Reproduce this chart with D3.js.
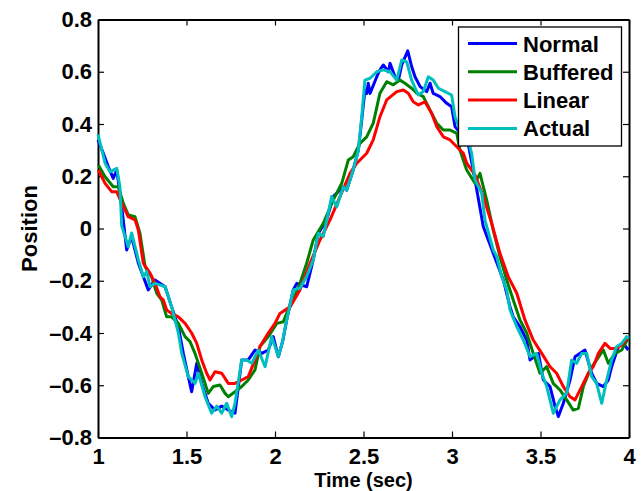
<!DOCTYPE html>
<html>
<head>
<meta charset="utf-8">
<script src="https://cdn.jsdelivr.net/npm/d3@7"></script>
<style>
  body { margin: 0; background: #fff; }
  svg text { font-family: "Liberation Sans", Arial, sans-serif; font-weight: bold; fill: #000; }
</style>
</head>
<body>
<svg id="chart" width="642" height="491"></svg>
<script>
// [time (sec), position]
const normal = [
  [1.000, 0.34], [1.030, 0.288], [1.058, 0.237], [1.086, 0.192], [1.106, 0.224], [1.134, 0.083],
  [1.162, -0.082], [1.190, -0.031], [1.228, -0.133], [1.284, -0.235], [1.322, -0.197], [1.379, -0.223],
  [1.416, -0.30], [1.454, -0.376], [1.482, -0.478], [1.510, -0.567], [1.529, -0.625], [1.558, -0.516],
  [1.586, -0.593], [1.623, -0.669], [1.661, -0.695], [1.699, -0.68], [1.736, -0.695], [1.774, -0.707],
  [1.812, -0.503], [1.849, -0.503], [1.887, -0.465], [1.925, -0.478], [1.962, -0.465], [1.990, -0.414],
  [2.019, -0.491], [2.045, -0.427], [2.066, -0.35], [2.103, -0.235], [2.123, -0.21], [2.179, -0.223],
  [2.216, -0.12], [2.245, -0.018], [2.292, 0.033], [2.329, 0.122], [2.386, 0.16], [2.405, 0.147],
  [2.442, 0.224], [2.471, 0.30], [2.490, 0.415], [2.508, 0.53], [2.518, 0.517], [2.527, 0.556],
  [2.537, 0.517], [2.575, 0.581], [2.593, 0.607], [2.612, 0.626], [2.640, 0.60], [2.650, 0.632],
  [2.678, 0.581], [2.697, 0.568], [2.716, 0.626], [2.750, 0.68], [2.772, 0.62], [2.791, 0.581],
  [2.820, 0.543], [2.857, 0.524], [2.876, 0.556], [2.894, 0.517], [2.932, 0.505], [2.970, 0.479],
  [2.998, 0.466], [3.017, 0.39], [3.090, 0.33], [3.130, 0.186], [3.177, 0.007],
  [3.233, -0.095], [3.290, -0.197], [3.328, -0.30], [3.346, -0.338], [3.384, -0.376], [3.422, -0.427],
  [3.441, -0.503], [3.488, -0.478], [3.516, -0.58], [3.554, -0.605], [3.582, -0.68], [3.601, -0.72],
  [3.629, -0.669], [3.667, -0.58], [3.695, -0.491], [3.751, -0.465], [3.789, -0.554], [3.817, -0.593],
  [3.855, -0.605], [3.883, -0.58], [3.902, -0.529], [3.940, -0.452], [3.968, -0.44], [3.996, -0.465]
];

const buffered = [
  [1.002, 0.243], [1.040, 0.198], [1.086, 0.16], [1.115, 0.16], [1.143, 0.096], [1.171, 0.052],
  [1.209, 0.045], [1.237, -0.018], [1.266, -0.146], [1.303, -0.185], [1.332, -0.248], [1.360, -0.274],
  [1.388, -0.338], [1.416, -0.338], [1.454, -0.363], [1.492, -0.414], [1.520, -0.433], [1.548, -0.478],
  [1.586, -0.554], [1.623, -0.631], [1.651, -0.605], [1.689, -0.599], [1.718, -0.631], [1.736, -0.644],
  [1.774, -0.625], [1.812, -0.605], [1.849, -0.58], [1.887, -0.541], [1.915, -0.452], [1.962, -0.414],
  [2.010, -0.363], [2.047, -0.357], [2.066, -0.325], [2.103, -0.274], [2.141, -0.21], [2.179, -0.133],
  [2.216, -0.044], [2.273, 0.020], [2.329, 0.109], [2.377, 0.173], [2.414, 0.262], [2.442, 0.275],
  [2.480, 0.326], [2.518, 0.351], [2.555, 0.403], [2.593, 0.518], [2.631, 0.562], [2.668, 0.55],
  [2.706, 0.568], [2.734, 0.556], [2.772, 0.537], [2.801, 0.518], [2.838, 0.505], [2.876, 0.453],
  [2.914, 0.403], [2.951, 0.377], [2.989, 0.377], [3.027, 0.364], [3.045, 0.30], [3.083, 0.224],
  [3.130, 0.173], [3.158, 0.211], [3.196, 0.109], [3.233, -0.006], [3.271, -0.108], [3.309, -0.197],
  [3.346, -0.274], [3.384, -0.35], [3.422, -0.40], [3.459, -0.478], [3.497, -0.554], [3.535, -0.529],
  [3.572, -0.593], [3.610, -0.618], [3.648, -0.656], [3.685, -0.695], [3.714, -0.688], [3.742, -0.605],
  [3.780, -0.541], [3.817, -0.503], [3.855, -0.465], [3.883, -0.516], [3.921, -0.478], [3.959, -0.465],
  [3.996, -0.42]
];

const linear = [
  [1.002, 0.224], [1.040, 0.173], [1.077, 0.141], [1.106, 0.141], [1.134, 0.096], [1.171, 0.045],
  [1.209, 0.033], [1.228, -0.006], [1.256, -0.133], [1.294, -0.171], [1.322, -0.21], [1.350, -0.261],
  [1.369, -0.274], [1.388, -0.312], [1.416, -0.325], [1.454, -0.338], [1.492, -0.363], [1.529, -0.40],
  [1.558, -0.44], [1.586, -0.503], [1.614, -0.554], [1.633, -0.58], [1.661, -0.548], [1.699, -0.554],
  [1.736, -0.593], [1.774, -0.593], [1.812, -0.58], [1.849, -0.567], [1.887, -0.503], [1.915, -0.452],
  [1.962, -0.40], [2.000, -0.363], [2.028, -0.325], [2.085, -0.30], [2.141, -0.235], [2.198, -0.133],
  [2.254, -0.044], [2.311, 0.033], [2.367, 0.122], [2.424, 0.211], [2.462, 0.25], [2.518, 0.288],
  [2.555, 0.339], [2.593, 0.428], [2.631, 0.492], [2.688, 0.524], [2.725, 0.53], [2.753, 0.518],
  [2.781, 0.485], [2.810, 0.473], [2.847, 0.485], [2.885, 0.441], [2.914, 0.39], [2.951, 0.351],
  [2.989, 0.339], [3.027, 0.313], [3.064, 0.288], [3.083, 0.25], [3.130, 0.205], [3.177, 0.122],
  [3.224, 0.02], [3.271, -0.095], [3.318, -0.185], [3.366, -0.248], [3.412, -0.35], [3.459, -0.427],
  [3.507, -0.478], [3.554, -0.529], [3.591, -0.554], [3.629, -0.605], [3.667, -0.644], [3.695, -0.656],
  [3.733, -0.605], [3.770, -0.554], [3.798, -0.529], [3.827, -0.478], [3.864, -0.44], [3.893, -0.459],
  [3.930, -0.459], [3.968, -0.44], [3.996, -0.414]
];

const actual = [
  [1.000, 0.36], [1.040, 0.25], [1.068, 0.217], [1.106, 0.23], [1.124, 0.16], [1.134, 0.01],
  [1.171, -0.07], [1.190, -0.017], [1.228, -0.12], [1.256, -0.185], [1.275, -0.165], [1.294, -0.223],
  [1.322, -0.21], [1.379, -0.223], [1.416, -0.30], [1.435, -0.35], [1.454, -0.40], [1.473, -0.478],
  [1.510, -0.567], [1.548, -0.593], [1.567, -0.554], [1.605, -0.644], [1.642, -0.707], [1.671, -0.68],
  [1.699, -0.707], [1.727, -0.669], [1.755, -0.72], [1.774, -0.669], [1.812, -0.503], [1.840, -0.503],
  [1.868, -0.516], [1.906, -0.465], [1.944, -0.529], [1.981, -0.414], [2.019, -0.49], [2.040, -0.44],
  [2.066, -0.35], [2.103, -0.235], [2.141, -0.229], [2.179, -0.184], [2.216, -0.12], [2.245, -0.018],
  [2.273, -0.031], [2.320, 0.122], [2.349, 0.083], [2.386, 0.16], [2.405, 0.147], [2.442, 0.224],
  [2.471, 0.30], [2.490, 0.428], [2.508, 0.568], [2.537, 0.575], [2.575, 0.60], [2.612, 0.607],
  [2.650, 0.60], [2.688, 0.568], [2.716, 0.645], [2.744, 0.638], [2.772, 0.568], [2.810, 0.511],
  [2.838, 0.524], [2.866, 0.581], [2.894, 0.568], [2.923, 0.537], [2.960, 0.524], [2.998, 0.511],
  [3.017, 0.428], [3.060, 0.35], [3.092, 0.339], [3.111, 0.288], [3.130, 0.186], [3.168, 0.135],
  [3.186, 0.033], [3.233, -0.082], [3.253, -0.108], [3.281, -0.185], [3.309, -0.235], [3.328, -0.312],
  [3.366, -0.376], [3.403, -0.427], [3.441, -0.491], [3.478, -0.478], [3.507, -0.554], [3.535, -0.605],
  [3.572, -0.707], [3.610, -0.656], [3.648, -0.63], [3.676, -0.503], [3.704, -0.516], [3.733, -0.478],
  [3.761, -0.478], [3.789, -0.567], [3.817, -0.593], [3.846, -0.669], [3.874, -0.58], [3.902, -0.503],
  [3.930, -0.452], [3.959, -0.44], [3.987, -0.414], [4.000, -0.42]
];

const seriesNames = ["Normal", "Buffered", "Linear", "Actual"];
const seriesColors = ["#0000ff", "#008000", "#ff0000", "#00bfbf"];
const xTicks = [1, 1.5, 2, 2.5, 3, 3.5, 4];
const yTicks = [-0.8, -0.6, -0.4, -0.2, 0, 0.2, 0.4, 0.6, 0.8];

const svg = d3.select("#chart");
const margin = {left: 98, top: 19.5, right: 13, bottom: 53.5};
const W = +svg.attr("width"), H = +svg.attr("height");

const x = d3.scaleLinear().domain([1, 4]).range([margin.left, W - margin.right]);
const y = d3.scaleLinear().domain([-0.8, 0.8]).range([H - margin.bottom, margin.top]);

const fmt = d => d3.format("~g")(d).replace("−", "–").replace("-", "–");

// axes, ticks pointing inwards like matlab
const axes = [
  {ax: d3.axisBottom(x).tickValues(xTicks).tickFormat(fmt).tickPadding(10.5), tr: `translate(0,${y(-0.8)})`},
  {ax: d3.axisTop(x).tickValues(xTicks).tickFormat(""), tr: `translate(0,${y(0.8)})`},
  {ax: d3.axisLeft(y).tickValues(yTicks).tickFormat(fmt).tickPadding(6), tr: `translate(${x(1)},0)`},
  {ax: d3.axisRight(y).tickValues(yTicks).tickFormat(""), tr: `translate(${x(4)},0)`}
];
axes.forEach(a => {
  const g = svg.append("g").attr("transform", a.tr)
    .call(a.ax.tickSizeInner(-6).tickSizeOuter(0));
  g.select(".domain").attr("stroke", "#000").attr("stroke-width", 2);
  g.selectAll(".tick line").attr("stroke", "#000").attr("stroke-width", 1.2);
  g.selectAll(".tick text").style("font-family", "Liberation Sans, Arial, sans-serif")
    .style("font-weight", "bold").style("font-size", "22px").attr("fill", "#000");
});

const line = d3.line().x(d => x(d[0])).y(d => y(d[1]));

[normal, buffered, linear, actual].forEach((data, i) => {
  svg.append("path")
    .datum(data)
    .attr("fill", "none")
    .attr("stroke", seriesColors[i])
    .attr("stroke-width", 3)
    .attr("stroke-linejoin", "round")
    .attr("d", line);
});

// axis labels
svg.append("text")
  .attr("x", (x(1) + x(4)) / 2)
  .attr("y", 486.7)
  .attr("text-anchor", "middle")
  .style("font-size", "20px")
  .text("Time (sec)");

svg.append("text")
  .attr("transform", `translate(37,${(y(-0.8) + y(0.8)) / 2}) rotate(-90)`)
  .attr("text-anchor", "middle")
  .style("font-size", "22px")
  .text("Position");

// legend
const legend = svg.append("g");
legend.append("rect")
  .attr("x", 458.5).attr("y", 27)
  .attr("width", 163).attr("height", 119)
  .attr("fill", "#fff").attr("stroke", "#000").attr("stroke-width", 1.3);

seriesNames.forEach((name, i) => {
  const ly = 43.5 + i * 28.3;
  legend.append("line")
    .attr("x1", 468).attr("x2", 517)
    .attr("y1", ly).attr("y2", ly)
    .attr("stroke", seriesColors[i]).attr("stroke-width", 3);
  legend.append("text")
    .attr("x", 523).attr("y", ly + 8)
    .style("font-size", "22px")
    .text(name);
});
</script>
</body>
</html>
